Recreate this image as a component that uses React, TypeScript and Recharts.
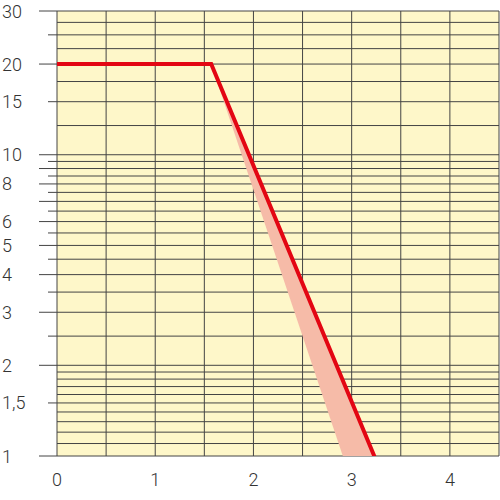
import { ComposedChart, Line, Area, XAxis, YAxis, CartesianGrid } from "recharts";

// red limit curve
const curveX = [0, 1.57, 3.23];
const curveY = [20, 20, 1];

// shaded tolerance band (below the red line)
const bandX = [1.57, 2.91, 3.23];
const bandLow = [20, 1, 1];
const bandHigh = [20, 1.8, 1];

const xTicks = [0, 1, 2, 3, 4];
const xGrid = [0, 0.5, 1, 1.5, 2, 2.5, 3, 3.5, 4, 4.5];

const yGrid = [
  1, 1.1, 1.2, 1.3, 1.4, 1.5, 1.6, 1.7, 1.8, 1.9, 2, 2.5, 3, 3.5, 4, 4.5, 5, 5.5, 6, 6.5, 7, 7.5, 8, 8.5, 9,
  9.5, 10, 12.5, 15, 17.5, 20, 22.5, 25, 27.5, 30,
];
const yLongTicks = [1, 2, 3, 4, 5, 6, 7, 8, 9, 10, 20, 30];
const yShortTicks = [1.5, 2.5, 3.5, 4.5, 5.5, 6.5, 7.5, 8.5, 9.5, 15, 25];
const yLabels = ["1", "1,5", "2", "3", "4", "5", "6", "8", "10", "15", "20", "30"];

const curveData = curveX.map((x, i) => ({ x, y: curveY[i] }));
const bandData = bandX.map((x, i) => ({ x, range: [bandLow[i], bandHigh[i]] }));
const yTicks = [...yLongTicks, ...yShortTicks].sort((a, b) => a - b);

const labelFont = { fontFamily: "Roboto, 'Liberation Sans', sans-serif", fontWeight: 300, fontSize: 18, fill: "#333" };

function YTick(props: any) {
  const { x, y, payload } = props;
  const v = payload.value;
  const long = yLongTicks.includes(v);
  const label = yLabels.find((l) => parseFloat(l.replace(",", ".")) === v);
  return (
    <g>
      <line x1={x - (long ? 18 : 9)} x2={x} y1={y} y2={y} stroke="#444" strokeWidth={1} />
      {label && (
        <text x={x - 55} y={y} dominantBaseline="central" textAnchor="start" {...labelFont}>
          {label}
        </text>
      )}
    </g>
  );
}

function XTick(props: any) {
  const { x, y, payload } = props;
  return (
    <text x={x} y={y} dy={23} dominantBaseline="central" textAnchor="middle" {...labelFont}>
      {payload.value}
    </text>
  );
}

export default function App() {
  return (
    <div style={{ position: "absolute", left: 0, top: 0, background: "#fff" }}>
      <ComposedChart width={500} height={500} margin={{ top: 11, right: 1, left: 0, bottom: 14 }}>
        <CartesianGrid
          fill="#FEF7C9"
          stroke="#444"
          strokeWidth={1}
          horizontalValues={yGrid}
          verticalValues={xGrid}
        />
        <XAxis
          type="number"
          dataKey="x"
          domain={[0, 4.5]}
          ticks={xTicks}
          allowDataOverflow
          axisLine={false}
          tickLine={false}
          tickSize={0}
          tickMargin={0}
          height={30}
          tick={<XTick />}
        />
        <YAxis
          type="number"
          scale="log"
          domain={[1, 30]}
          ticks={yTicks}
          allowDataOverflow
          axisLine={false}
          tickLine={false}
          tickSize={0}
          tickMargin={0}
          width={57}
          interval={0}
          tick={<YTick />}
        />
        <Area
          data={bandData}
          dataKey="range"
          type="linear"
          fill="#F6BBA8"
          fillOpacity={1}
          stroke="none"
          isAnimationActive={false}
        />
        <Line
          data={curveData}
          dataKey="y"
          type="linear"
          stroke="#E30613"
          strokeWidth={4}
          strokeLinecap="round"
          dot={false}
          activeDot={false}
          isAnimationActive={false}
        />
      </ComposedChart>
    </div>
  );
}
